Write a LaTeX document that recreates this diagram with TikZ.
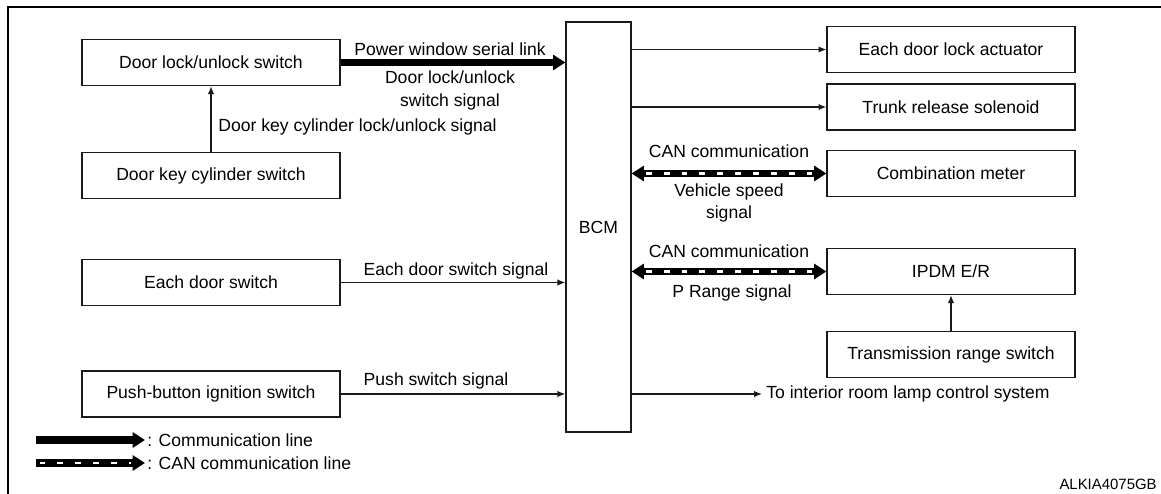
\documentclass[tikz,border=0pt]{standalone}
\usepackage{fontspec}
\setmainfont{Liberation Sans}
\usetikzlibrary{arrows.meta,positioning,calc}
\definecolor{lineblack}{HTML}{1A1A1A}
\tikzset{
  bigtip/.tip={Triangle[length=7pt,width=8.5pt]},
  unitbox/.style={
    draw=lineblack,
    line width=0.7pt,
    minimum width=5.16cm,
    minimum height=0.92cm,
    inner sep=0pt,
    font=\fontsize{10}{12}\selectfont
  },
  outbox/.style={unitbox, minimum width=4.96cm},
  bcmbox/.style={unitbox, minimum width=1.3cm, minimum height=8.2cm},
  siglabel/.style={inner sep=0pt, align=center, font=\fontsize{10}{13}\selectfont},
  sigarrow/.style={-{Latex[length=4.5pt,width=3.6pt]}, line width=0.7pt, draw=lineblack},
  commarrow/.style={-bigtip, line width=4pt, draw=black},
  canline/.style={line width=4.5pt, draw=black,
    postaction={draw=white, arrows=-, line width=1.6pt,
      dash pattern=on 3.4pt off 6.8pt, shorten <=#1, shorten >=8pt}},
  canline/.default=8pt,
  frameline/.style={line width=1.7pt, draw=black}
}
\begin{document}
\begin{tikzpicture}[x=0.02cm, y=-0.02cm]
\useasboundingbox (0,0) rectangle (1161,494);
\draw[frameline] (1161,7) -- (8,7) -- (8,494);

% input side
\node[unitbox] (lockswitch) at (211,62.5) {Door lock/unlock switch};
\node[unitbox] (keycyl) at (211,175.5) {Door key cylinder switch};
\node[unitbox] (doorsw) at (211,282.5) {Each door switch};
\node[unitbox] (pushsw) at (211,394) {Push-button ignition switch};

\node[bcmbox] (bcm) at (598.5,227) {BCM};

% output side
\node[outbox] (actuator) at (951,49.5) {Each door lock actuator};
\node[outbox] (trunk) at (951,107) {Trunk release solenoid};
\node[outbox] (meter) at (951,173.5) {Combination meter};
\node[outbox] (ipdm) at (951,271.5) {IPDM E/R};
\node[outbox] (trans) at (951,354.5) {Transmission range switch};
\coordinate (lamp) at (762,394);

\draw[commarrow] (lockswitch.east) -- (lockswitch.east -| bcm.west);
\draw[sigarrow] (keycyl.north) -- (lockswitch.south);
\foreach \a in {doorsw,pushsw}
  \draw[sigarrow] (\a.east) -- (\a.east -| bcm.west);
\foreach \b in {actuator,trunk}
  \draw[sigarrow] (\b.west -| bcm.east) -- (\b.west);
\draw[sigarrow] (pushsw.east -| bcm.east) -- (lamp);
\foreach \b in {meter,ipdm}
  \draw[canline, bigtip-bigtip] (\b.west -| bcm.east) -- (\b.west);
\draw[sigarrow] (trans.north) -- (ipdm.south);

% signal labels
\node[siglabel] (pwlink) at (450,49) {Power window serial link};
\node[siglabel] (dlsig) at (450,90.5) {Door lock/unlock\\switch signal};
\node[siglabel, anchor=west] (kcsig) at (218,127) {Door key cylinder lock/unlock signal};
\node[siglabel] (dssig) at (456,271) {Each door switch signal};
\node[siglabel] (pssig) at (436,381) {Push switch signal};
\node[siglabel] (can1) at (729,151) {CAN communication};
\node[siglabel] (vssig) at (729,203) {Vehicle speed\\signal};
\node[siglabel] (can2) at (729,251) {CAN communication};
\node[siglabel] (prsig) at (732,293) {P Range signal};
\node[siglabel, anchor=west] (lamptext) at (766,394) {To interior room lamp control system};

% legend
\coordinate (leg1a) at (36,440);
\coordinate (leg1b) at (145,440);
\coordinate (leg2a) at (36,463);
\coordinate (leg2b) at (145,463);
\draw[commarrow] (leg1a) -- (leg1b);
\draw[canline=2pt, -bigtip] (leg2a) -- (leg2b);
\node[siglabel, anchor=west] (leg1) at (147,440) {: Communication line};
\node[siglabel, anchor=west] (leg2) at (147,463) {: CAN communication line};
\node[siglabel, anchor=east, font=\fontsize{8.5}{10}\selectfont] (figid) at (1157,484) {ALKIA4075GB};
\end{tikzpicture}
\end{document}
